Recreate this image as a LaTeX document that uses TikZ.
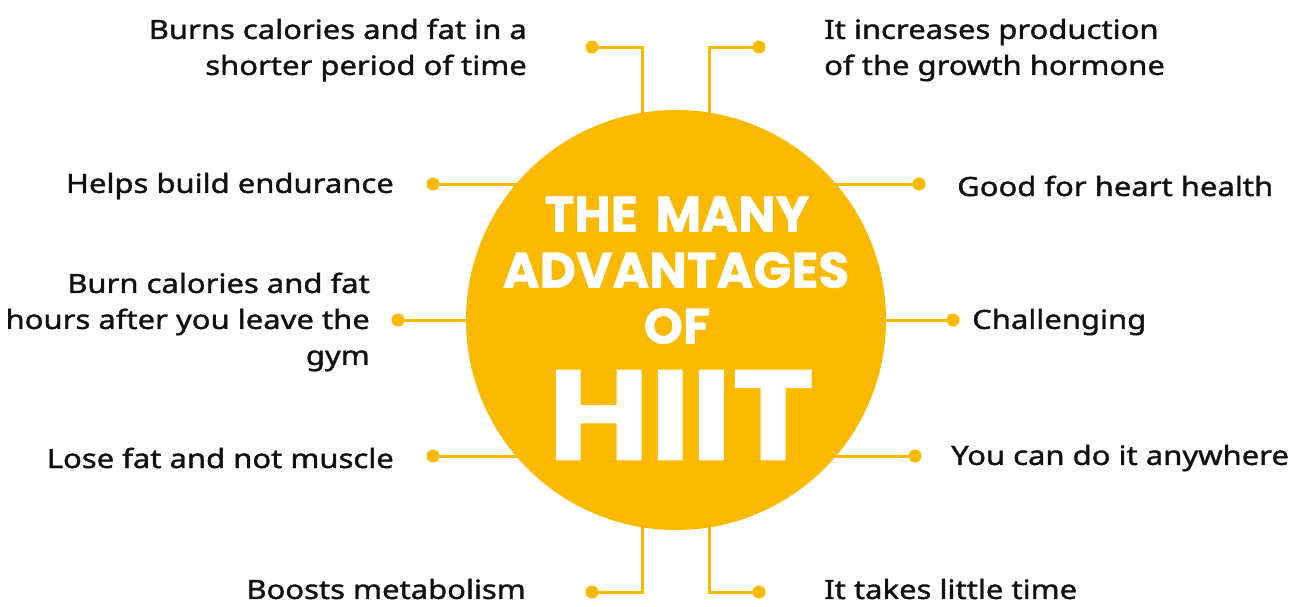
\documentclass[tikz,border=0pt]{standalone}
\usepackage{fontspec}
\setmainfont{Noto Sans}[FakeBold=1.4, FakeStretch=1.17]
\newfontfamily\titlefont{Poppins}[FakeBold=0.8]
\newfontfamily\hiitfont{Poppins}[FakeStretch=1.09, FakeBold=0.8]
\usetikzlibrary{backgrounds}
\definecolor{hy}{HTML}{FBBA00}
\definecolor{tx}{HTML}{111111}
\tikzset{
  conn/.style={draw=hy, line width=3pt},
  dot/.style={circle, fill=hy, minimum size=13pt, inner sep=0pt},
  lab/.style={inner sep=0pt, text=tx, font=\fontsize{26.5}{36}\selectfont},
  labl/.style={lab, anchor=east, align=right},
  labr/.style={lab, anchor=west, align=left},
  ttl/.style={inner sep=0pt, text=white, font=\titlefont\bfseries\fontsize{50}{50}\selectfont},
}
\begin{document}
\begin{tikzpicture}[x=1pt,y=-1pt]
\useasboundingbox (0,0) rectangle (1298,606);
\node[circle, fill=hy, minimum size=420pt, inner sep=0pt] (c) at (676,320) {};
\node[ttl] (t1) at (677,214) {THE\hspace{0.35em}MANY};
\node[ttl] (t2) at (676,270) {ADVANTAGES};
\node[ttl] (t3) at (677,326) {OF};
\node[ttl, font=\hiitfont\bfseries\fontsize{128}{128}\selectfont] (t4) at (681,415) {HIIT};
% dots
\node[dot] (dl1) at (592,47) {};
\node[dot] (dl2) at (433,184) {};
\node[dot] (dl3) at (398,320) {};
\node[dot] (dl4) at (433,456) {};
\node[dot] (dl5) at (592,592) {};
\node[dot] (dr1) at (759,47) {};
\node[dot] (dr2) at (919,184) {};
\node[dot] (dr3) at (953,320) {};
\node[dot] (dr4) at (915,456) {};
\node[dot] (dr5) at (759,592) {};
\begin{scope}[on background layer]
\draw[conn] (dl1.center) -| ([xshift=-34pt]c.center);
\draw[conn] (dl5.center) -| ([xshift=-34pt]c.center);
\draw[conn] (dr1.center) -| ([xshift=33pt]c.center);
\draw[conn] (dr5.center) -| ([xshift=33pt]c.center);
\draw[conn] (dl2.center) -- (dl2.center -| c.center);
\draw[conn] (dl3.center) -- (c.center);
\draw[conn] (dl4.center) -- (dl4.center -| c.center);
\draw[conn] (dr2.center) -- (dr2.center -| c.center);
\draw[conn] (dr3.center) -- (c.center);
\draw[conn] (dr4.center) -- (dr4.center -| c.center);
\end{scope}
% labels
\node[labl] (l1) at (527,50) {Burns calories and fat in a\\shorter period of time};
\node[labl] (l2) at (394,186) {Helps build endurance};
\node[labl] (l3) at (370,322) {Burn calories and fat\\hours after you leave the\\gym};
\node[labl] (l4) at (394,458) {Lose fat and not muscle};
\node[labl] (l5) at (526,589) {Boosts metabolism};
\node[labr] (r1) at (824,50) {It increases production\\of the growth hormone};
\node[labr] (r2) at (957,186) {Good for heart health};
\node[labr] (r3) at (972,322) {Challenging};
\node[labr] (r4) at (951,458) {You can do it anywhere};
\node[labr] (r5) at (824,589) {It takes little time};
\end{tikzpicture}
\end{document}
